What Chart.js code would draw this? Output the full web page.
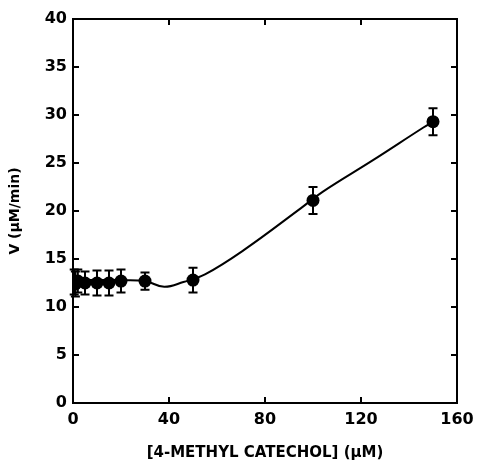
<!DOCTYPE html>
<html>
<head>
<meta charset="utf-8">
<script src="https://cdn.jsdelivr.net/npm/chart.js@4"></script>
<style>
html,body{margin:0;padding:0;background:#fff;}
#wrap{width:477px;height:462px;position:relative;}
</style>
</head>
<body>
<div id="wrap"><canvas id="c" width="477" height="462"></canvas></div>
<script>
const concentrations = [0.5, 1, 2, 5, 10, 15, 20, 30, 50, 100, 150];
const velocities     = [12.6, 12.4, 12.7, 12.5, 12.5, 12.5, 12.7, 12.7, 12.8, 21.1, 29.3];
const errors         = [1.3, 1.3, 1.2, 1.2, 1.3, 1.3, 1.2, 0.9, 1.3, 1.4, 1.4];

// Fitted curve
const curveX = [0, 10, 20, 30, 38, 46, 55, 71, 95, 104, 125, 146, 150];
const curveY = [12.8, 12.8, 12.8, 12.7, 12.1, 12.6, 13.4, 15.9, 20.3, 22.0, 25.3, 28.7, 29.3];

// Tick labels
const xTicks = [0, 40, 80, 120, 160];
const yTicks = [0, 5, 10, 15, 20, 25, 30, 35, 40];

const FONT = "'DejaVu Sans', sans-serif";

const framePlugin = {
  id: 'frame',
  afterDatasetsDraw(chart) {
    const {ctx, chartArea: a, scales} = chart;
    const xs = scales.x, ys = scales.y;
    ctx.save();
    ctx.strokeStyle = '#000';
    // error bars
    ctx.lineWidth = 2;
    concentrations.forEach((c, i) => {
      const px = xs.getPixelForValue(c);
      const top = ys.getPixelForValue(velocities[i] + errors[i]);
      const bot = ys.getPixelForValue(velocities[i] - errors[i]);
      ctx.beginPath();
      ctx.moveTo(px, top); ctx.lineTo(px, bot);
      ctx.moveTo(px - 4.5, top); ctx.lineTo(px + 4.5, top);
      ctx.moveTo(px - 4.5, bot); ctx.lineTo(px + 4.5, bot);
      ctx.stroke();
    });
    // frame
    ctx.lineWidth = 2;
    ctx.strokeRect(a.left, a.top, a.right - a.left, a.bottom - a.top);
    // inward ticks on all sides
    const tl = 6;
    ctx.beginPath();
    xTicks.forEach(v => {
      const px = xs.getPixelForValue(v);
      ctx.moveTo(px, a.bottom); ctx.lineTo(px, a.bottom - tl);
      ctx.moveTo(px, a.top); ctx.lineTo(px, a.top + tl);
    });
    yTicks.forEach(v => {
      const py = ys.getPixelForValue(v);
      ctx.moveTo(a.left, py); ctx.lineTo(a.left + tl, py);
      ctx.moveTo(a.right, py); ctx.lineTo(a.right - tl, py);
    });
    ctx.stroke();
    ctx.restore();
  }
};

new Chart(document.getElementById('c'), {
  type: 'scatter',
  data: {
    datasets: [
      {
        label: 'fit',
        data: curveX.map((x, i) => ({x, y: curveY[i]})),
        showLine: true,
        borderColor: '#000',
        borderWidth: 2,
        pointRadius: 0,
        tension: 0.4,
        fill: false
      },
      {
        label: 'V',
        data: concentrations.map((x, i) => ({x, y: velocities[i]})),
        showLine: false,
        pointRadius: 6.5,
        pointBackgroundColor: '#000',
        pointBorderColor: '#000',
        borderWidth: 0
      }
    ]
  },
  options: {
    responsive: false,
    animation: false,
    devicePixelRatio: 1,
    layout: {padding: {top: 19, right: 20, left: 0, bottom: 0}},
    plugins: {legend: {display: false}, tooltip: {enabled: false}},
    scales: {
      x: {
        type: 'linear', min: 0, max: 160,
        afterBuildTicks(s) { s.ticks = xTicks.map(v => ({value: v})); },
        afterFit(s) { s.height = 59; s.paddingLeft = 0; s.paddingRight = 0; },
        border: {display: false},
        grid: {display: false, drawTicks: false},
        ticks: {color: '#000', padding: 7, font: {family: FONT, size: 16, weight: 'bold'}},
        title: {display: true, text: '[4-METHYL CATECHOL] (μM)', color: '#000', padding: {top: 10, bottom: 0},
                font: {family: FONT, size: 15, weight: 'bold'}}
      },
      y: {
        type: 'linear', min: 0, max: 40,
        afterBuildTicks(s) { s.ticks = yTicks.map(v => ({value: v})); },
        afterFit(s) { s.width = 73; s.paddingTop = 0; s.paddingBottom = 0; },
        border: {display: false},
        grid: {display: false, drawTicks: false},
        ticks: {color: '#000', padding: 6, font: {family: FONT, size: 16, weight: 'bold'}},
        title: {display: true, text: 'V (μM/min)', color: '#000', padding: {top: 7, bottom: 4},
                font: {family: FONT, size: 14, weight: 'bold'}}
      }
    }
  },
  plugins: [framePlugin]
});
</script>
</body>
</html>
